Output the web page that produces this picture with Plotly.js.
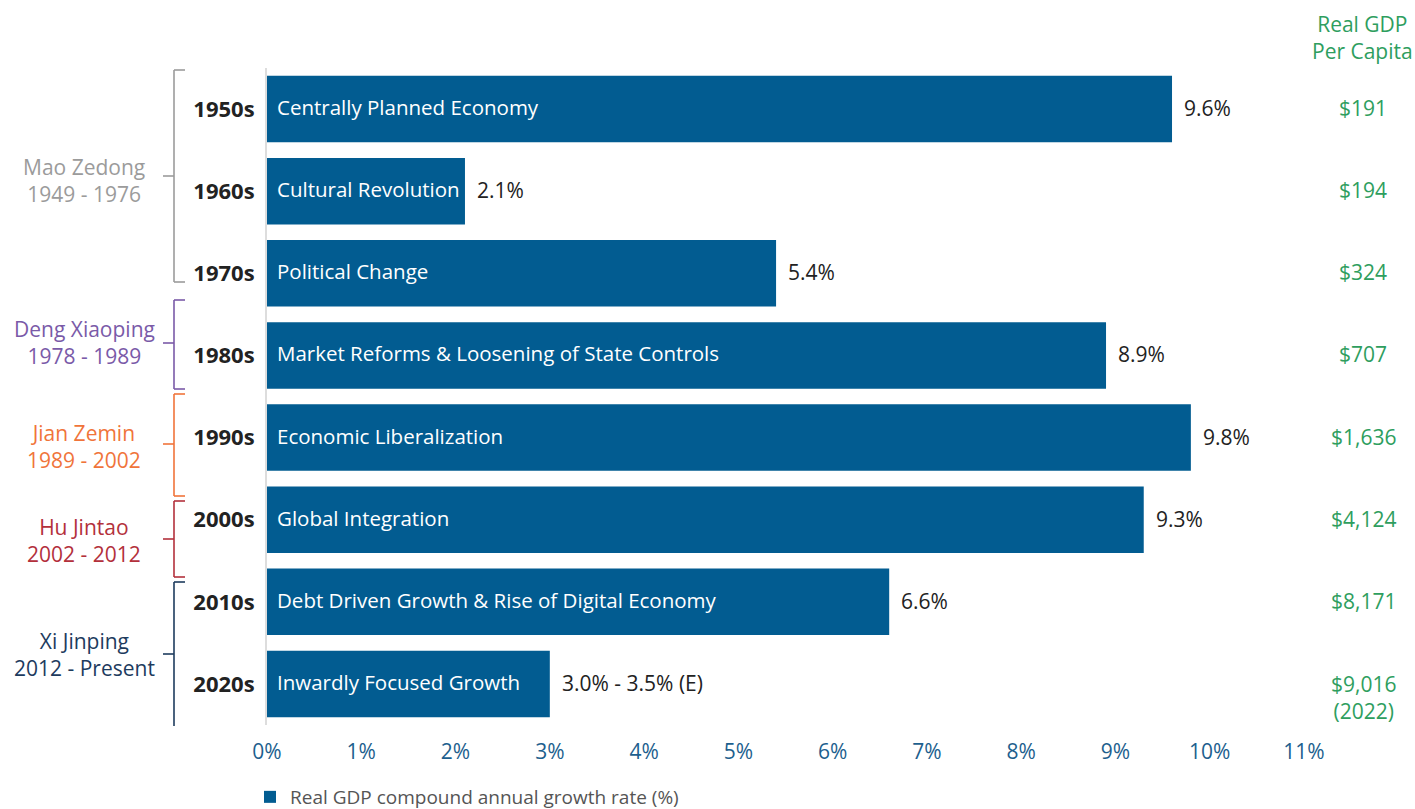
<!DOCTYPE html>
<html>
<head>
<meta charset="utf-8">
<script src="https://cdn.plot.ly/plotly-3.0.1.min.js"></script>
<style>html,body{margin:0;padding:0;background:#fff;}#chart{width:1415px;height:809px;}</style>
</head>
<body>
<div id="chart"></div>
<script>
// ---- data ----
var decades = ['1950s','1960s','1970s','1980s','1990s','2000s','2010s','2020s'];
var growth = [9.6, 2.1, 5.4, 8.9, 9.8, 9.3, 6.6, 3.0];
var growthLabels = ['9.6%','2.1%','5.4%','8.9%','9.8%','9.3%','6.6%','3.0% - 3.5% (E)'];
var eras = ['Centrally Planned Economy','Cultural Revolution','Political Change',
  'Market Reforms & Loosening of State Controls','Economic Liberalization',
  'Global Integration','Debt Driven Growth & Rise of Digital Economy','Inwardly Focused Growth'];
var gdpPerCapita = ['$191','$194','$324','$707','$1,636','$4,124','$8,171','$9,016<br>(2022)'];
var leaders = ['Mao Zedong<br>1949 - 1976','Deng Xiaoping<br>1978 - 1989','Jian Zemin<br>1989 - 2002',
  'Hu Jintao<br>2002 - 2012','Xi Jinping<br>2012 - Present'];
var leaderColors = ['#9b9b9b','#7a5aa8','#f0743a','#b3303b','#1d3b5e'];
var xTicks = [0,1,2,3,4,5,6,7,8,9,10,11];
var xTickText = ['0%','1%','2%','3%','4%','5%','6%','7%','8%','9%','10%','11%'];

// ---- layout geometry (pixels) ----
var W = 1415, H = 809;
var M = {l: 267, r: 111, t: 68, b: 84, autoexpand: false};
var PW = W - M.l - M.r, PH = H - M.t - M.b;
function px(x) { return (x - M.l) / PW; }
function py(y) { return (H - M.b - y) / PH; }

// bracket pixel positions: [top, bottom, mid, hasBottomTick]
var brackets = [[70,282,176,true],[300,389,343,true],[394,496,444,true],[501,577,539,true],[582,726,654,false]];
var leaderTextY = [180,342,446,540,654];

var FONT = '"Open Sans", "Noto Sans", sans-serif';
var BAR = '#025c91';
var GREEN = '#2e9e5e';

var traces = [{
  type: 'bar', orientation: 'h',
  x: growth, y: decades,
  marker: {color: BAR},
  width: 0.81,
  name: 'Real GDP compound annual growth rate (%)',
  hoverinfo: 'x+y',
  showlegend: true
}];

var annotations = [];
decades.forEach(function(d, i) {
  annotations.push({x: 0, y: d, xref: 'x', yref: 'y', text: eras[i], showarrow: false,
    xanchor: 'left', xshift: 8, yshift: 2, font: {family: FONT, size: 20.5, color: '#ffffff'}});
  annotations.push({x: growth[i], y: d, xref: 'x', yref: 'y', text: growthLabels[i], showarrow: false,
    xanchor: 'left', xshift: 10, yshift: 1, font: {family: FONT, size: 21, color: '#222222'}});
  annotations.push({x: px(1363), y: d, xref: 'paper', yref: 'y', text: gdpPerCapita[i], showarrow: false,
    xanchor: 'center', yshift: (i === 7 ? -14 : 1), font: {family: FONT, size: 21, color: GREEN}});
});
annotations.push({x: px(1362), y: py(37), xref: 'paper', yref: 'paper', text: 'Real GDP<br>Per Capita',
  showarrow: false, xanchor: 'center', yanchor: 'middle', font: {family: FONT, size: 21, color: GREEN}});

var shapes = [];
leaders.forEach(function(t, i) {
  var c = leaderColors[i], b = brackets[i];
  annotations.push({x: px(84), y: py(leaderTextY[i]), xref: 'paper', yref: 'paper', text: t,
    showarrow: false, xanchor: 'center', yanchor: 'middle', font: {family: FONT, size: 21, color: c}});
  var ln = {color: c, width: 1.6};
  shapes.push({type: 'line', xref: 'paper', yref: 'paper', x0: px(174), x1: px(174), y0: py(b[0]), y1: py(b[1]), line: ln});
  shapes.push({type: 'line', xref: 'paper', yref: 'paper', x0: px(174), x1: px(185), y0: py(b[0]), y1: py(b[0]), line: ln});
  if (b[3]) shapes.push({type: 'line', xref: 'paper', yref: 'paper', x0: px(174), x1: px(185), y0: py(b[1]), y1: py(b[1]), line: ln});
  shapes.push({type: 'line', xref: 'paper', yref: 'paper', x0: px(163), x1: px(174), y0: py(b[2]), y1: py(b[2]), line: ln});
});

var layout = {
  width: W, height: H,
  margin: M,
  paper_bgcolor: '#ffffff', plot_bgcolor: '#ffffff',
  font: {family: FONT, size: 19, color: '#222'},
  bargap: 0.19,
  xaxis: {range: [0, 11], tickvals: xTicks, ticktext: xTickText, showgrid: false, zeroline: false,
    showline: false, ticks: '', ticklabelstandoff: 12,
    tickfont: {family: FONT, size: 21, color: '#1d5f8e'}, fixedrange: true},
  yaxis: {categoryorder: 'array', categoryarray: decades, autorange: 'reversed', showgrid: false,
    zeroline: false, showline: true, linecolor: '#dddddd', linewidth: 2, ticks: '',
    ticklabelstandoff: 6,
    tickvals: decades, ticktext: decades.map(function(d){return '<b>' + d + '</b>';}),
    tickfont: {family: FONT, size: 22, color: '#222222'}, fixedrange: true},
  showlegend: true,
  legend: {orientation: 'h', x: px(250), y: py(797), xanchor: 'left', yanchor: 'middle',
    font: {family: FONT, size: 19, color: '#555555'}, itemwidth: 30, bgcolor: 'rgba(0,0,0,0)'},
  annotations: annotations,
  shapes: shapes
};

Plotly.newPlot('chart', traces, layout, {displayModeBar: false, staticPlot: true});
</script>
</body>
</html>
